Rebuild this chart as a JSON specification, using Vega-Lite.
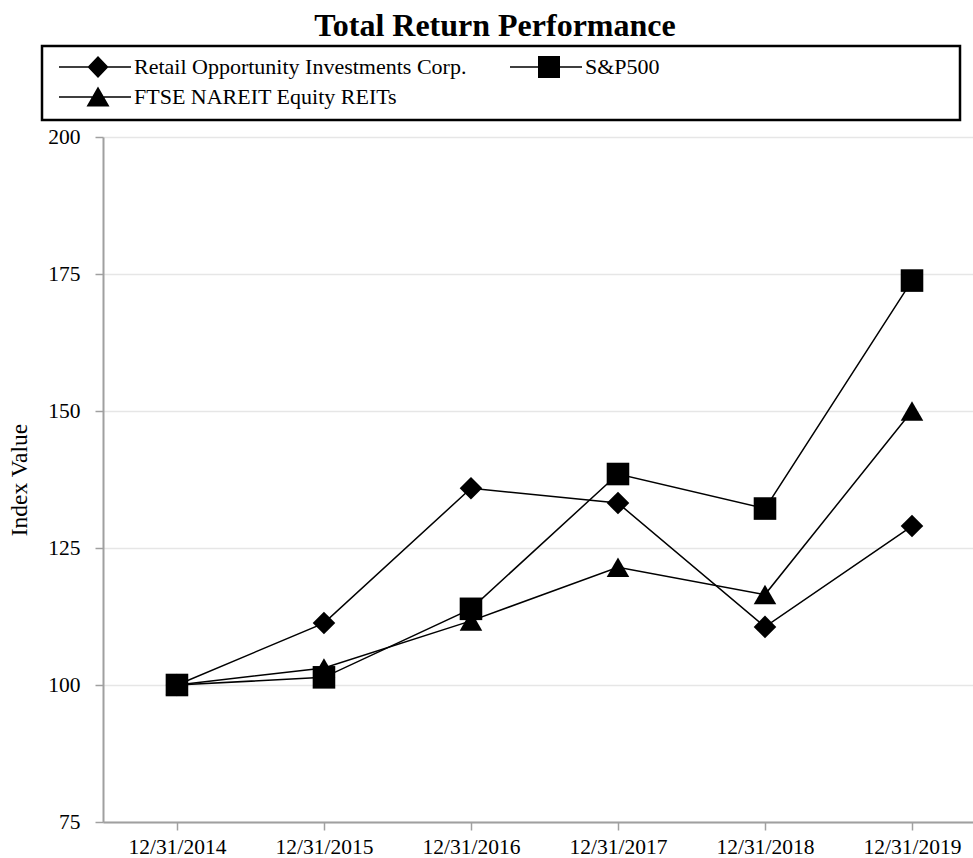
{
  "$schema": "https://vega.github.io/schema/vega-lite/v6.json",
  "width": 870,
  "height": 685,
  "autosize": "none",
  "padding": {"left": 103, "top": 137, "right": 0, "bottom": 36},
  "background": "white",
  "title": {
    "text": "Total Return Performance",
    "font": "Liberation Serif",
    "fontSize": 32,
    "fontWeight": "bold",
    "color": "black",
    "anchor": "middle",
    "dx": -43,
    "offset": 2
  },
  "data": {
    "values": [
      {"date": "12/31/2014", "series": "Retail Opportunity Investments Corp.", "value": 100},
      {"date": "12/31/2015", "series": "Retail Opportunity Investments Corp.", "value": 111.3},
      {"date": "12/31/2016", "series": "Retail Opportunity Investments Corp.", "value": 135.9},
      {"date": "12/31/2017", "series": "Retail Opportunity Investments Corp.", "value": 133.2},
      {"date": "12/31/2018", "series": "Retail Opportunity Investments Corp.", "value": 110.6},
      {"date": "12/31/2019", "series": "Retail Opportunity Investments Corp.", "value": 129.0},
      {"date": "12/31/2014", "series": "FTSE NAREIT Equity REITs", "value": 100},
      {"date": "12/31/2015", "series": "FTSE NAREIT Equity REITs", "value": 103.1},
      {"date": "12/31/2016", "series": "FTSE NAREIT Equity REITs", "value": 111.7},
      {"date": "12/31/2017", "series": "FTSE NAREIT Equity REITs", "value": 121.5},
      {"date": "12/31/2018", "series": "FTSE NAREIT Equity REITs", "value": 116.5},
      {"date": "12/31/2019", "series": "FTSE NAREIT Equity REITs", "value": 150.0},
      {"date": "12/31/2014", "series": "S&P500", "value": 100},
      {"date": "12/31/2015", "series": "S&P500", "value": 101.4},
      {"date": "12/31/2016", "series": "S&P500", "value": 113.9},
      {"date": "12/31/2017", "series": "S&P500", "value": 138.5},
      {"date": "12/31/2018", "series": "S&P500", "value": 132.2},
      {"date": "12/31/2019", "series": "S&P500", "value": 173.8}
    ]
  },
  "config": {
    "view": {"stroke": null},
    "legend": {"strokeWidth": 2.5},
    "axis": {
      "labelFont": "Liberation Serif",
      "labelColor": "black",
      "titleFont": "Liberation Serif",
      "titleColor": "black",
      "domainColor": "#a0a0a0",
      "domainWidth": 2,
      "tickColor": "#a0a0a0",
      "tickWidth": 1.5,
      "tickSize": 8,
      "gridColor": "#e6e6e6",
      "gridWidth": 1.5
    }
  },
  "encoding": {
    "x": {
      "field": "date",
      "type": "ordinal",
      "sort": null,
      "scale": {"type": "point", "padding": 0.459, "align": 0.548},
      "axis": {
        "title": null,
        "labelAngle": 0,
        "labelFontSize": 21.5,
        "labelPadding": 6,
        "grid": false
      }
    },
    "y": {
      "field": "value",
      "type": "quantitative",
      "scale": {"domain": [75, 200], "nice": false, "zero": false},
      "axis": {
        "title": "Index Value",
        "titleFontSize": 23.5,
        "titleFontWeight": "normal",
        "titlePadding": 16,
        "values": [75, 100, 125, 150, 175, 200],
        "labelFontSize": 21.5,
        "labelPadding": 15,
        "grid": true
      }
    }
  },
  "layer": [
    {
      "mark": {"type": "line", "color": "black", "strokeWidth": 1.5},
      "encoding": {"detail": {"field": "series"}}
    },
    {
      "mark": {"type": "point", "filled": true, "color": "black", "opacity": 1, "size": 510},
      "encoding": {
        "shape": {
          "field": "series",
          "type": "nominal",
          "scale": {
            "domain": ["Retail Opportunity Investments Corp.", "FTSE NAREIT Equity REITs", "S&P500"],
            "range": ["diamond", "triangle-up", "square"]
          },
          "legend": null
        }
      }
    },
    {
      "transform": [{"filter": "false"}],
      "mark": {"type": "point", "filled": false, "color": "black", "fill": "black", "stroke": "black", "fillOpacity": 1, "strokeOpacity": 1, "opacity": 1, "strokeWidth": 1.5},
      "encoding": {
        "shape": {
          "field": "series",
          "type": "nominal",
          "scale": {
            "domain": ["Retail Opportunity Investments Corp.", "FTSE NAREIT Equity REITs", "S&P500"],
            "range": [
              "M-1,-0.075H6.2V0.075H-1ZM2.9,-1.1L3.95,0L2.9,1.1L1.85,0Z",
              "M-1,-0.075H6.2V0.075H-1ZM2.9,-1.05L4.05,0.95L1.75,0.95Z",
              "M-1,-0.075H6.2V0.075H-1ZM1.8,-1.1H4V1.1H1.8Z"
            ]
          },
          "legend": {
            "orient": "none",
            "legendX": -61,
            "legendY": -91,
            "columns": 2,
            "symbolSize": 400,
            "symbolOffset": 6,
            "labelOffset": 54,
            "columnPadding": 36,
            "rowPadding": 2,
            "padding": 10,
            "strokeColor": "black",
            "labelFont": "Liberation Serif",
            "labelFontSize": 22,
            "labelColor": "black",
            "labelLimit": 0,
            "title": ".",
            "titleOrient": "right",
            "titlePadding": 287,
            "titleOpacity": 0,
            "titleFontSize": 8,
            "symbolFillColor": "black",
            "symbolStrokeColor": "black",
            "symbolStrokeWidth": 1.5,
            "symbolOpacity": 1
          }
        }
      }
    }
  ],
  "resolve": {"scale": {"shape": "independent"}, "legend": {"shape": "independent"}}
}
